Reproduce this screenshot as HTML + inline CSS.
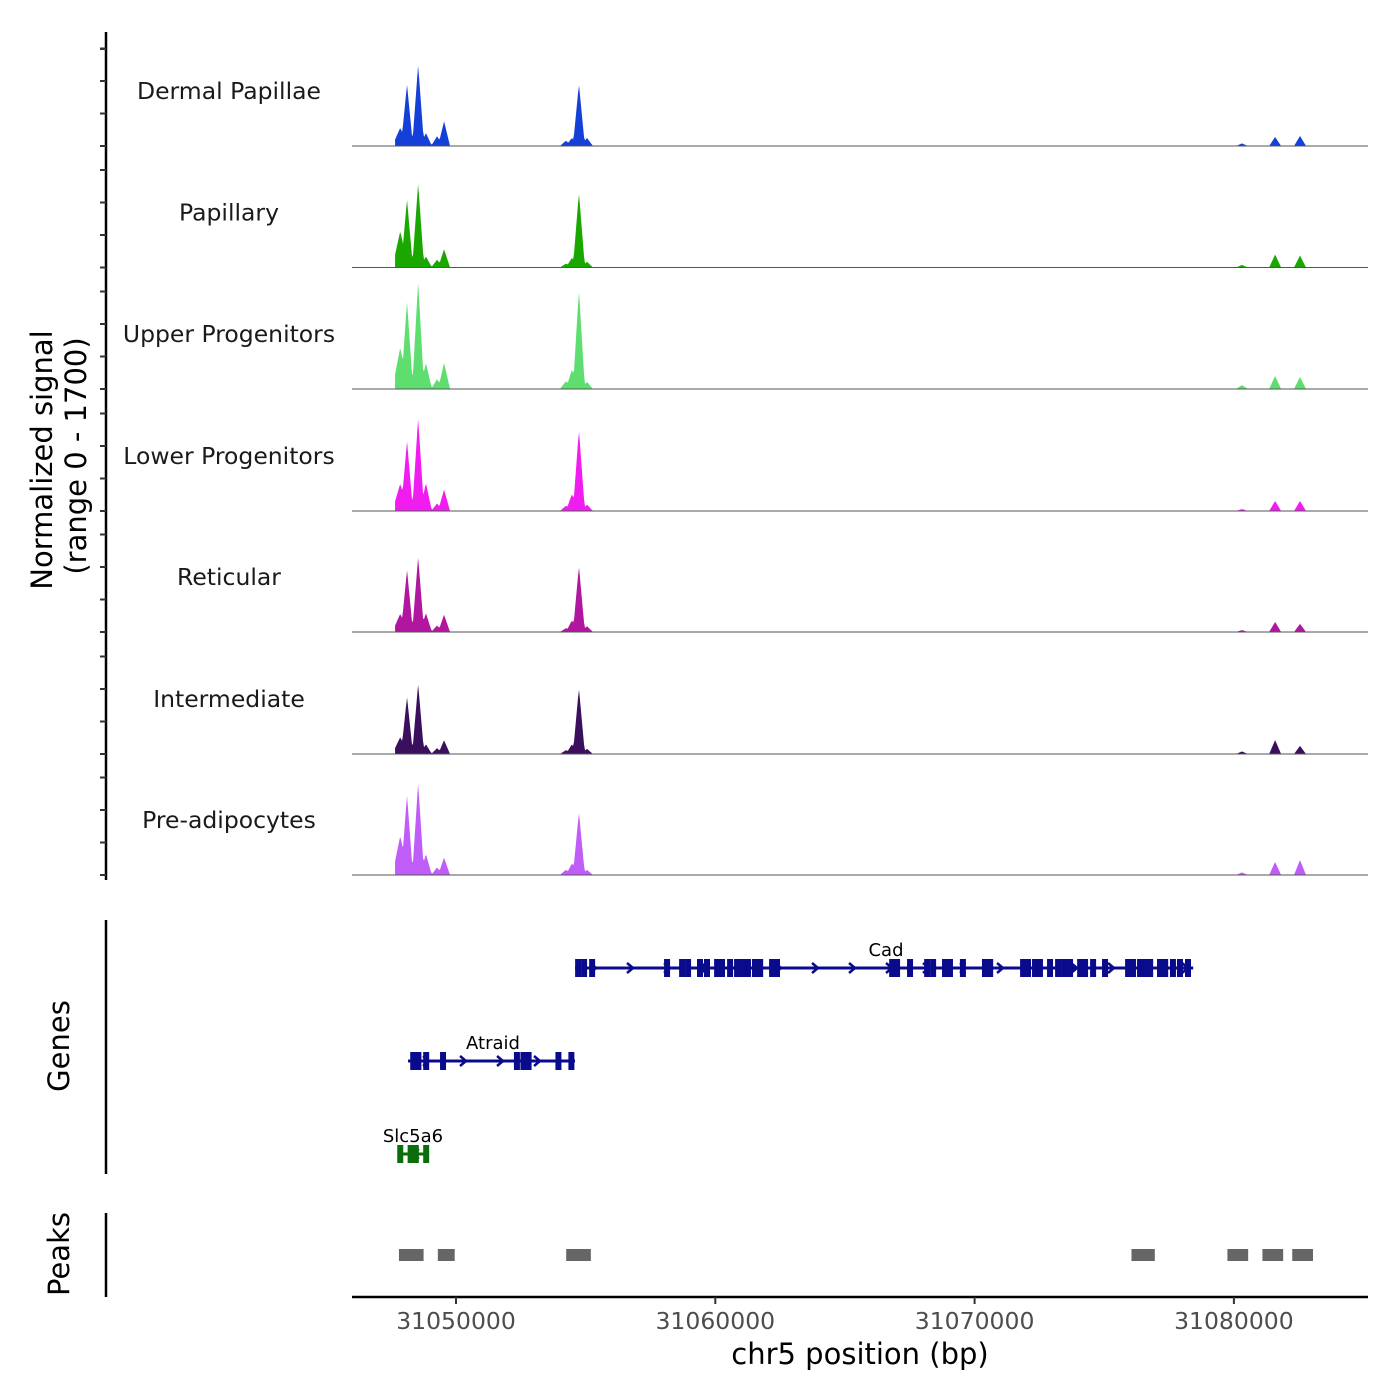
<!DOCTYPE html>
<html><head><meta charset="utf-8">
<style>
html,body{margin:0;padding:0;background:#fff;}
svg text{font-family:"DejaVu Sans","Liberation Sans",sans-serif;}
</style></head>
<body>
<svg id="chart" width="1400" height="1400" xmlns="http://www.w3.org/2000/svg" style="position:absolute;left:0;top:0">
<g id="tracks"></g>
<g id="genes"></g>
<g id="peaks"></g>
<g id="axes"></g>
<text x="860" y="1364" text-anchor="middle" font-size="29">chr5 position (bp)</text>
<text transform="translate(52,460) rotate(-90)" text-anchor="middle" font-size="29">Normalized signal</text>
<text transform="translate(86,456) rotate(-90)" text-anchor="middle" font-size="29">(range 0 - 1700)</text>
<text transform="translate(69,1046) rotate(-90)" text-anchor="middle" font-size="29">Genes</text>
<text transform="translate(69,1254) rotate(-90)" text-anchor="middle" font-size="29">Peaks</text>
</svg>
<script>
const trackNames = ["Dermal Papillae","Papillary","Upper Progenitors","Lower Progenitors","Reticular","Intermediate","Pre-adipocytes"];
const trackColors = ["#1540d8","#1aa800","#5ede6e","#f01cf0","#b0169e","#3a0f5e","#c05cf8"];
// peak centers in kb offset from 31,000,000
const peakPos = [47.85, 48.11, 48.54, 48.84, 49.27, 49.54, 54.24, 54.47, 54.74, 55.05, 80.31, 81.59, 82.55];
const sigDermal = [280,950,1250,200,150,380,80,125,955,125,40,140,155];
const sigPapillary = [560,1050,1295,170,120,280,60,150,1155,90,40,200,185];
const sigUpper = [640,1350,1650,400,150,400,120,300,1525,110,60,200,185];
const sigLower = [420,1080,1430,430,115,330,80,260,1250,100,30,155,155];
const sigReticular = [280,960,1155,290,100,265,60,180,1015,90,30,155,125];
const sigIntermediate = [260,880,1080,150,90,210,60,150,1015,80,40,215,125];
const sigPreadipo = [600,1230,1415,320,115,265,80,180,970,80,40,200,230];
const signals = [sigDermal,sigPapillary,sigUpper,sigLower,sigReticular,sigIntermediate,sigPreadipo];
const xTicks = [50, 60, 70, 80];
const xTickLabels = ["31050000","31060000","31070000","31080000"];
const cadExons = [54.71,54.94,55.25,58.14,58.72,58.95,59.41,59.68,60.07,60.26,60.57,60.84,61.03,61.26,61.53,61.73,62.19,62.38,66.82,67.01,67.51,68.17,68.40,68.86,69.05,69.55,70.40,70.60,71.87,72.06,72.33,72.52,72.91,73.22,73.45,73.68,74.07,74.26,74.57,75.03,75.92,76.11,76.38,76.57,76.77,77.15,77.35,77.65,77.92,78.23];
const atraidExons = [48.35,48.55,48.85,49.50,52.35,52.60,52.80,53.95,54.45];
const slcExons = [47.85,48.25,48.45,48.85];
const peakStarts = [47.80, 49.30, 54.25, 76.05, 79.75, 81.10, 82.25];
const peakEnds = [48.75, 49.95, 55.20, 76.95, 80.55, 81.90, 83.05];

const NS="http://www.w3.org/2000/svg";
function el(tag, attrs, parent){const e=document.createElementNS(NS,tag);for(const k in attrs)e.setAttribute(k,attrs[k]);parent.appendChild(e);return e;}
const X = kb => 456 + (kb-50)*25.93;
const pxPerUnit = 32.5/500;
const baselines = [146,267.5,389,511,632,754,875];
const tracksG=document.getElementById('tracks');
signals.forEach((sig,t)=>{
  const b=baselines[t];
  const g=el('g',{},tracksG);
  
  
  const lab=el('text',{x:229,y:b-47,'text-anchor':'middle','font-size':23.5,fill:'#1a1a1a'},g);
  lab.textContent=trackNames[t];
  
  
  let d='M'+X(47.65)+','+b;
  for(let px=X(47.65);px<=1330;px+=1){
    let v=0;
    peakPos.forEach((p,i)=>{const dx=Math.abs(px-X(p));const hw=(i===0)?8:6;if(dx<hw){v=Math.max(v,sig[i]*(1-dx/hw));}});
    d+=' L'+px+','+(b-v*pxPerUnit);
  }
  d+=' L1330,'+b+' Z';
  const path=el('path',{d:d,fill:trackColors[t],stroke:'none'},g);
  
  
  const bl=el('line',{x1:352,x2:1368,y1:b,y2:b,stroke:'#555','stroke-width':1},g);
  
  
});
const genesG=document.getElementById('genes');
function gene(name,start,end,y,exons,color,dir,labelX){
  const g=el('g',{},genesG);
  
  
  el('line',{x1:X(start),x2:X(end),y1:y,y2:y,stroke:color,'stroke-width':3},g);
  for(let x=X(start)+18;x<X(end)-5;x+=37){
    const s=dir>0?'M'+(x-3)+','+(y-5)+' L'+(x+3)+','+y+' L'+(x-3)+','+(y+5):'M'+(x+3)+','+(y-5)+' L'+(x-3)+','+y+' L'+(x+3)+','+(y+5);
    el('path',{d:s,stroke:color,'stroke-width':2.5,fill:'none'},g);
  }
  exons.forEach(e=>{el('rect',{x:X(e)-3,y:y-9,width:6,height:18,fill:color},g);});
  const t=el('text',{x:labelX,y:y-12,'text-anchor':'middle','font-size':18,fill:'#000'},g);
  t.textContent=name;
  
  
}
gene('Cad',54.59,78.43,968,cadExons,'#0a0a8c',1,886);
gene('Atraid',48.15,54.59,1061,atraidExons,'#0a0a8c',1,493);
gene('Slc5a6',47.76,48.92,1154,slcExons,'#0a6e0a',-1,413);
const peaksG=document.getElementById('peaks');
peakStarts.forEach((s,i)=>{
  const r=el('rect',{x:X(s),y:1249,width:X(peakEnds[i])-X(s),height:12,fill:'#666'},peaksG);
  
  
});
const ax=document.getElementById('axes');
el('line',{x1:106,x2:106,y1:32,y2:880,stroke:'#000','stroke-width':2.5},ax);
baselines.forEach(b=>{for(let k=0;k<4;k++){el('line',{x1:100,x2:106,y1:b-k*32.5,y2:b-k*32.5,stroke:'#333','stroke-width':2},ax);}});
el('line',{x1:100,x2:106,y1:49,y2:49,stroke:'#333','stroke-width':2},ax);
el('line',{x1:106,x2:106,y1:920,y2:1174,stroke:'#000','stroke-width':2.5},ax);
el('line',{x1:106,x2:106,y1:1213,y2:1297,stroke:'#000','stroke-width':2.5},ax);
el('line',{x1:352,x2:1368,y1:1297,y2:1297,stroke:'#000','stroke-width':2.5},ax);
xTicks.forEach((v,i)=>{
  el('line',{x1:X(v),x2:X(v),y1:1297,y2:1304,stroke:'#333','stroke-width':2},ax);
  const t=el('text',{x:X(v),y:1329,'text-anchor':'middle','font-size':23.5,fill:'#4d4d4d'},ax);
  t.textContent=xTickLabels[i];
  
  
});
</script>
</body></html>
